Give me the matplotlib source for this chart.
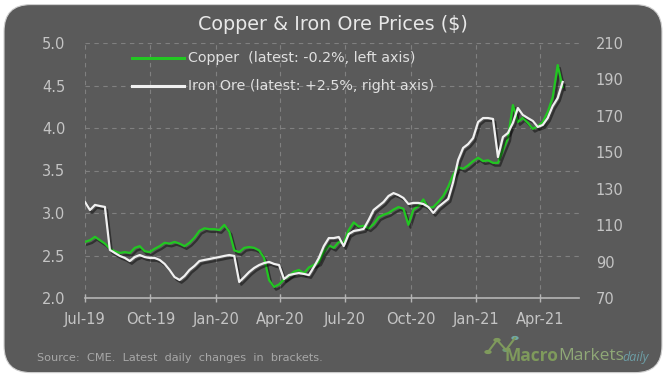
import matplotlib
matplotlib.use("Agg")
import matplotlib.pyplot as plt
import matplotlib.patheffects as pe
from matplotlib.patches import FancyBboxPatch, Circle
from matplotlib.lines import Line2D
import pandas as pd

plt.rcParams['font.family'] = ['DejaVu Sans']

dates = pd.date_range('2019-07-01', periods=97, freq='7D')

copper = [2.66, 2.68, 2.72, 2.68, 2.64, 2.58, 2.55, 2.53, 2.54, 2.53,
          2.59, 2.61, 2.55, 2.54, 2.58, 2.61, 2.65, 2.64, 2.66, 2.64,
          2.61, 2.65, 2.71, 2.79, 2.82, 2.81, 2.81, 2.80, 2.86, 2.78,
          2.56, 2.54, 2.59, 2.60, 2.59, 2.56, 2.47, 2.21, 2.13, 2.16,
          2.22, 2.26, 2.31, 2.33, 2.29, 2.36, 2.39, 2.42, 2.54, 2.62,
          2.59, 2.66, 2.65, 2.80, 2.89, 2.84, 2.85, 2.82, 2.87, 2.95,
          2.98, 3.00, 3.04, 3.07, 3.05, 2.86, 3.04, 3.08, 3.16, 3.06,
          3.07, 3.13, 3.20, 3.31, 3.45, 3.54, 3.52, 3.56, 3.61, 3.65,
          3.61, 3.62, 3.59, 3.59, 3.74, 3.88, 4.27, 4.07, 4.12, 4.06,
          3.99, 4.02, 4.07, 4.19, 4.36, 4.74, 4.48]

iron_ore = [122.7, 118.3, 121.1, 120.5, 120.0, 96.4, 94.7, 93.1, 92.0, 90.3,
            92.5, 93.6, 92.5, 92.0, 92.0, 90.9, 88.7, 85.4, 81.5, 79.9,
            82.1, 85.4, 87.6, 90.3, 90.9, 91.4, 92.0, 92.5, 93.1, 93.6,
            93.1, 78.8, 81.5, 84.3, 86.5, 88.1, 89.2, 89.8, 88.7, 88.1,
            80.4, 82.6, 83.2, 83.7, 83.2, 82.6, 87.0, 92.0, 98.5, 102.9,
            102.9, 103.5, 98.5, 105.1, 106.8, 107.3, 107.9, 112.8, 118.3, 120.5,
            122.7, 126.0, 127.6, 126.5, 124.9, 121.6, 122.2, 122.2, 121.6, 120.0,
            116.7, 120.0, 122.2, 124.4, 133.7, 145.8, 152.4, 154.5, 157.8, 166.6,
            168.8, 168.8, 168.3, 147.4, 158.4, 160.6, 166.1, 174.3, 170.5, 168.8,
            167.2, 163.9, 165.0, 168.8, 175.4, 179.8, 188.6]

x_tick_dates = ['2019-07-01', '2019-10-01', '2020-01-01', '2020-04-01',
                '2020-07-01', '2020-10-01', '2021-01-01', '2021-04-01']
x_tick_labels = ['Jul-19', 'Oct-19', 'Jan-20', 'Apr-20', 'Jul-20', 'Oct-20', 'Jan-21', 'Apr-21']
left_ticks = [2.0, 2.5, 3.0, 3.5, 4.0, 4.5, 5.0]
right_ticks = [70, 90, 110, 130, 150, 170, 190, 210]

title = 'Copper & Iron Ore Prices ($)'
copper_label = 'Copper  (latest: -0.2%, left axis)'
iron_label = 'Iron Ore (latest: +2.5%, right axis)'
source = 'Source:  CME.  Latest  daily  changes  in  brackets.'

BG = '#5a5a5a'
GREEN = '#22c722'
WHITE = '#f0f0f0'
TXT = '#c4c4c4'
GRID = '#808080'

fig = plt.figure(figsize=(6.7, 3.81), dpi=100)
fig.patch.set_facecolor('white')
panel = FancyBboxPatch((0.006, 0.022), 0.982, 0.966,
                       boxstyle='round,pad=0,rounding_size=0.04',
                       transform=fig.transFigure, facecolor=BG, edgecolor='#d0d0d0',
                       linewidth=0.8, mutation_aspect=670/381, zorder=0)
fig.add_artist(panel)

ax = fig.add_axes([85/670, 1 - 298/381, (579 - 85)/670, (298 - 43)/381])
ax.set_facecolor('none')
ax2 = ax.twinx()

shadow = [pe.SimpleLineShadow(offset=(1.5, -2), shadow_color='black', alpha=0.45), pe.Normal()]
ax.plot(dates, copper, color=GREEN, lw=1.6, path_effects=shadow, zorder=3)
ax2.plot(dates, iron_ore, color=WHITE, lw=1.6, path_effects=shadow, zorder=4)

x0 = pd.Timestamp('2019-07-01')
ax.set_xlim(x0, x0 + pd.Timedelta(days=695))
ax.set_ylim(2.0, 5.0)
ax2.set_ylim(70, 210)

ax.set_xticks(pd.to_datetime(x_tick_dates))
ax.set_xticklabels(x_tick_labels)
ax.set_yticks(left_ticks)
ax.set_yticklabels([f'{v:.1f}' for v in left_ticks])
ax2.set_yticks(right_ticks)
ax2.set_yticklabels([str(v) for v in right_ticks])

for a in (ax, ax2):
    for s in a.spines.values():
        s.set_visible(False)
ax.spines['bottom'].set_visible(True)
ax.spines['bottom'].set_color('#b5b5b5')
ax.spines['bottom'].set_linewidth(1.2)

ax.tick_params(axis='x', colors='#b5b5b5', labelcolor=TXT, length=6, width=1.0,
               direction='inout', pad=7, labelsize=10.5)
ax.tick_params(axis='y', length=0, pad=14, labelcolor=TXT, labelsize=10.5)
ax2.tick_params(axis='y', length=0, pad=12, labelcolor=TXT, labelsize=10.5)

ax.grid(True, color=GRID, lw=0.8, linestyle=(0, (4, 4)))
ax.set_axisbelow(True)

fig.text(0.497, 1 - 24/381, title, ha='center', va='center', color='#e8e8e8', fontsize=13.8)

# legend
for yy, col, lab in [(58, GREEN, copper_label), (86, WHITE, iron_label)]:
    fig.add_artist(Line2D([132/670, 184/670], [1 - yy/381, 1 - yy/381], color=col, lw=2.2,
                          transform=fig.transFigure))
    fig.text(188/670, 1 - yy/381, lab, ha='left', va='center', color='#e0e0e0', fontsize=10.3)

fig.text(37/670, 1 - 358/381, source, ha='left', va='center', color='#a8a8a8', fontsize=8.1)

# logo
pts = [(488, 352), (497, 340), (506, 350), (515, 338)]
fig.add_artist(Line2D([p[0]/670 for p in pts], [1 - p[1]/381 for p in pts],
                      color='#7f9a5c', lw=1.5, transform=fig.transFigure))
for (px, py), c in zip(pts, ['#7f9a5c', '#7f9a5c', '#6e9a78', '#6fa8a8']):
    fig.add_artist(Circle((px/670, 1 - py/381), 0.0055, transform=fig.transFigure,
                          facecolor=c, edgecolor='none'))
fig.text(505/670, 1 - 356/381, 'Macro', ha='left', va='center', color='#7f9a5c',
         fontsize=12.5, fontweight='bold', family='Open Sans')
fig.text(558/670, 1 - 356/381, 'Markets', ha='left', va='center', color='#8fa877',
         fontsize=12.5, family='Open Sans')
fig.text(622/670, 1 - 358/381, 'daily', ha='left', va='center', color='#6d9ea6',
         fontsize=9, fontstyle='italic', family='Open Sans')

fig.savefig('out.png', dpi=100, facecolor=fig.get_facecolor())
